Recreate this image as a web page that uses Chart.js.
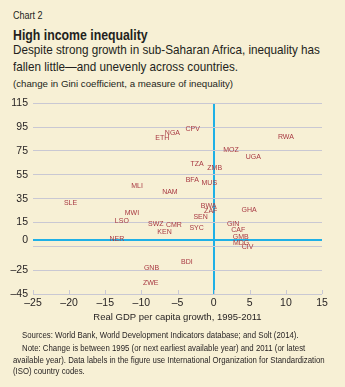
<!DOCTYPE html>
<html>
<head>
<meta charset="utf-8">
<script src="https://cdn.jsdelivr.net/npm/chart.js@4.4.1/dist/chart.umd.min.js"></script>
<style>
  html, body { margin: 0; padding: 0; }
  body {
    width: 345px; height: 387px; position: relative; overflow: hidden;
    background: #f7f0d5; color: #231f20;
    font-family: "Liberation Sans Narrow", "Liberation Sans", sans-serif;
  }
  /* the print face is a condensed grotesque, so squeeze the text horizontally */
  .hdr { position: absolute; left: 13px; white-space: nowrap; transform-origin: 0 0; }
  #label { top: 10px; font-size: 10px; transform: scaleX(0.9); }
  #title { top: 26px; font-size: 15px; font-weight: bold; transform: scaleX(0.82); }
  .sub { font-size: 13px; transform: scaleX(0.9); }
  #sub1 { top: 42px; }
  #sub2 { top: 59px; }
  #units { top: 78px; font-size: 9.7px; }
  #chartWrap { position: absolute; left: 0; top: 92px; }
  .note { position: absolute; font-size: 8.6px; white-space: nowrap; transform-origin: 0 0; transform: scaleX(0.91); }
</style>
</head>
<body>
<div class="hdr" id="label">Chart 2</div>
<div class="hdr" id="title">High income inequality</div>
<div class="hdr sub" id="sub1">Despite strong growth in sub-Saharan Africa, inequality has</div>
<div class="hdr sub" id="sub2">fallen little—and unevenly across countries.</div>
<div class="hdr" id="units">(change in Gini coefficient, a measure of inequality)</div>
<div id="chartWrap"><canvas id="giniChart" width="345" height="240"></canvas></div>
<div class="note" style="left:22px;top:330px;">Sources: World Bank, World Development Indicators database; and Solt (2014).</div>
<div class="note" style="left:22px;top:343px;">Note: Change is between 1995 (or next earliest available year) and 2011 (or latest</div>
<div class="note" style="left:13px;top:355px;">available year). Data labels in the figure use International Organization for Standardization</div>
<div class="note" style="left:13px;top:366px;">(ISO) country codes.</div>

<script>
// ISO codes and their values: real GDP per capita growth (x) vs change in Gini (y)
const countries = ['RWA', 'CPV', 'NGA', 'ETH', 'MOZ', 'UGA', 'TZA', 'ZMB', 'BFA', 'MUS', 'MLI',
    'NAM', 'SLE', 'GHA', 'BWA', 'ZAF', 'MWI', 'SEN', 'LSO', 'SWZ', 'CMR', 'GIN', 'SYC', 'KEN',
    'CAF', 'GMB', 'NER', 'MDG', 'CIV', 'BDI', 'GNB', 'ZWE'];
const gdpGrowth = [10.0, -2.9, -5.7, -7.1, 2.4, 5.5, -2.3, 0.15, -2.95, -0.6, -10.6,
    -6.05, -19.8, 4.9, -0.7, -0.4, -11.3, -1.8, -12.7, -8.0, -5.5, 2.7, -2.35, -6.8,
    3.4, 3.75, -13.4, 3.8, 4.7, -3.7, -8.6, -8.7];
const giniChange = [87, 93, 90, 85.6, 75.8, 70.2, 63.8, 61, 50.3, 48, 45.3,
    40.8, 31.5, 25.6, 29, 24.3, 23.1, 19.7, 16.1, 13.6, 12.5, 13.4, 10, 6.9,
    8.3, 2.7, 0.75, -2, -6, -18.6, -23.6, -35.7];

// axis ticks
const xTicks = [-25, -20, -15, -10, -5, 0, 5, 10, 15];
const yTicks = [-45, -25, -5, 0, 15, 35, 55, 75, 95, 115];
const yHiddenLabels = [-5];

const gridGray = '#c9c8d3';
const zeroBlue = '#1fb0e6';
const labelRed = '#a83942';
const fontFamily = '"Liberation Sans Narrow", "Liberation Sans", sans-serif';

function fmt(v) {
    return v < 0 ? '\u2013' + Math.abs(v) : String(v);
}

// writes the country code at each point's position
const codeLabels = {
    id: 'codeLabels',
    afterDatasetsDraw(chart) {
        const ctx = chart.ctx;
        const meta = chart.getDatasetMeta(0);
        ctx.save();
        ctx.font = '7px ' + fontFamily;
        ctx.fillStyle = labelRed;
        ctx.textAlign = 'center';
        ctx.textBaseline = 'middle';
        meta.data.forEach((pt, i) => {
            ctx.fillText(countries[i], pt.x, pt.y);
        });
        ctx.restore();
    }
};

// small inward tick marks along the bottom axis
const innerTicks = {
    id: 'innerTicks',
    afterDraw(chart) {
        const ctx = chart.ctx;
        const x = chart.scales.x;
        const bottom = chart.chartArea.bottom;
        ctx.save();
        ctx.strokeStyle = gridGray;
        ctx.lineWidth = 1;
        xTicks.forEach(v => {
            const px = Math.round(x.getPixelForValue(v)) + 0.5;
            ctx.beginPath();
            ctx.moveTo(px, bottom);
            ctx.lineTo(px, bottom - 4);
            ctx.stroke();
        });
        ctx.restore();
    }
};

const ctx = document.getElementById('giniChart').getContext('2d');
new Chart(ctx, {
    type: 'scatter',
    data: {
        datasets: [{
            data: gdpGrowth.map((g, i) => ({ x: g, y: giniChange[i] })),
            pointRadius: 0,
            pointHoverRadius: 0
        }]
    },
    options: {
        responsive: false,
        animation: false,
        events: [],
        layout: { padding: { top: 11, right: 23, left: 0, bottom: 0 } },
        plugins: {
            legend: { display: false },
            tooltip: { enabled: false }
        },
        scales: {
            x: {
                type: 'linear',
                min: -25,
                max: 15,
                afterBuildTicks: scale => { scale.ticks = xTicks.map(v => ({ value: v })); },
                afterFit: scale => { scale.height = 38; },
                border: { display: false },
                grid: {
                    drawTicks: false,
                    color: c => (c.tick && c.tick.value === 0 ? zeroBlue : 'rgba(0,0,0,0)'),
                    lineWidth: c => (c.tick && c.tick.value === 0 ? 2 : 0)
                },
                ticks: {
                    padding: 3,
                    color: '#231f20',
                    font: { family: fontFamily, size: 10.5 },
                    maxRotation: 0,
                    callback: v => fmt(v)
                },
                title: {
                    display: true,
                    text: 'Real GDP per capita growth, 1995-2011',
                    color: '#231f20',
                    font: { family: fontFamily, size: 9.5 },
                    padding: { top: 0, bottom: 9 }
                }
            },
            y: {
                type: 'linear',
                min: -45,
                max: 115,
                afterBuildTicks: scale => { scale.ticks = yTicks.map(v => ({ value: v })); },
                afterFit: scale => { scale.width = 33; },
                border: { display: false },
                grid: {
                    drawTicks: false,
                    color: c => (c.tick && c.tick.value === 0 ? zeroBlue : gridGray),
                    lineWidth: c => (c.tick && c.tick.value === 0 ? 2 : 1)
                },
                ticks: {
                    padding: 5,
                    color: '#231f20',
                    font: { family: fontFamily, size: 10.5 },
                    callback: v => (yHiddenLabels.includes(v) ? '' : fmt(v))
                }
            }
        }
    },
    plugins: [codeLabels, innerTicks]
});
</script>
</body>
</html>
